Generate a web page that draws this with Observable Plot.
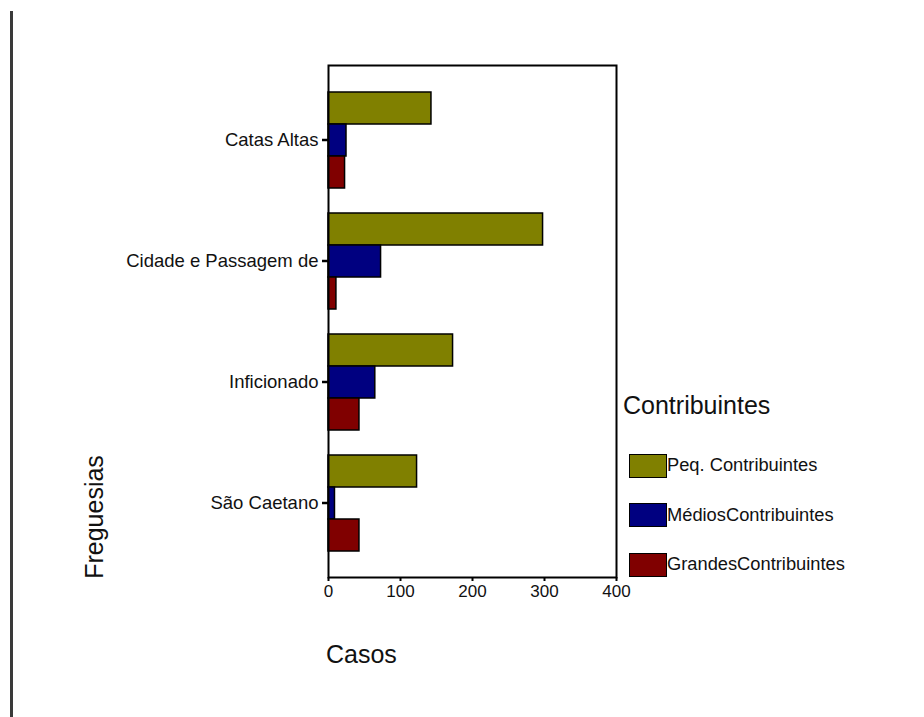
<!DOCTYPE html>
<html>
<head>
<meta charset="utf-8">
<script src="https://cdn.jsdelivr.net/npm/d3@7"></script>
<script src="https://cdn.jsdelivr.net/npm/@observablehq/plot@0.6"></script>
<style>
  body { margin: 0; background: #fff; font-family: "Liberation Sans", Arial, sans-serif; color: #111; }
  #wrap { position: relative; width: 924px; height: 717px; overflow: hidden; }
  #edge { position: absolute; left: 10px; top: 11px; width: 3px; height: 706px; background: #3a3a3a; }
  #chart { position: absolute; left: 0; top: 0; }
  .axis-title { position: absolute; font-size: 25px; line-height: 1; white-space: nowrap; }
  #xtitle { left: 326px; top: 642px; }
  #ytitle { left: 82px; top: 517px; transform-origin: 0 0; transform: rotate(-90deg) translate(-50%, 0); }
  #legend { position: absolute; left: 623px; top: 393px; }
  #legend .lt { font-size: 25px; line-height: 1; margin-bottom: 35px; }
  #legend .item { display: flex; align-items: center; height: 25px; margin-bottom: 24.5px; margin-left: 6px; }
  #legend .sw { width: 36px; height: 22px; border: 1.5px solid #000; box-sizing: content-box; }
  #legend .lb { font-size: 18.3px; line-height: 1; }
</style>
</head>
<body>
<div id="wrap">
  <div id="edge"></div>
  <div id="chart"></div>
  <div class="axis-title" id="xtitle">Casos</div>
  <div class="axis-title" id="ytitle">Freguesias</div>
  <div id="legend"></div>
</div>
<script>
// Freguesias (parishes) and contributor classes
const freguesias = ["Catas Altas", "Cidade e Passagem de", "Inficionado", "São Caetano"];
const categorias = ["Peq. Contribuintes", "MédiosContribuintes", "GrandesContribuintes"];

// Number of cases per parish, one array per contributor class
const peq = [143, 298, 173, 123];
const medios = [25, 73, 65, 9];
const grandes = [23, 11, 43, 43];

const cores = ["#808000", "#000080", "#800000"];
const xTicks = [0, 100, 200, 300, 400];

const series = [peq, medios, grandes];
const rows = freguesias.flatMap((f, i) =>
  categorias.map((c, j) => ({freguesia: f, categoria: c, casos: series[j][i]}))
);

// Space between the outer bar groups and the plot frame
const framePad = 26;

const chart = Plot.plot({
  width: 924,
  height: 717,
  marginLeft: 328,
  marginRight: 308,
  marginTop: 90,
  marginBottom: 165,
  style: {fontFamily: "Liberation Sans, Arial, sans-serif", background: "transparent", color: "#111"},
  x: {domain: [0, 400]},
  y: {domain: categorias, padding: 0, axis: null},
  fy: {domain: freguesias, paddingInner: 0.2, paddingOuter: 0, axis: null},
  color: {domain: categorias, range: cores},
  marks: [
    Plot.barX(rows, {
      x: "casos", y: "categoria", fy: "freguesia",
      fill: "categoria", stroke: "#000", strokeWidth: 1.5
    }),
    Plot.frame({facet: "super", stroke: "#000", strokeWidth: 2, insetTop: -framePad, insetBottom: -framePad}),
    Plot.axisX({ticks: xTicks, label: null, fontSize: 17, tickSize: 4, tickPadding: 3, strokeWidth: 2, stroke: "#000", dy: framePad}),
    Plot.axisFy({anchor: "left", label: null, fontSize: 18.5, tickSize: 6, tickPadding: 4, strokeWidth: 2.5, stroke: "#000"})
  ]
});
document.getElementById("chart").append(chart);

// Legend built from the same classes and colours
const legend = document.getElementById("legend");
const lt = document.createElement("div");
lt.className = "lt";
lt.textContent = "Contribuintes";
legend.append(lt);
categorias.forEach((c, j) => {
  const item = document.createElement("div");
  item.className = "item";
  const sw = document.createElement("div");
  sw.className = "sw";
  sw.style.background = cores[j];
  const lb = document.createElement("div");
  lb.className = "lb";
  lb.textContent = c;
  item.append(sw, lb);
  legend.append(item);
});
</script>
</body>
</html>
